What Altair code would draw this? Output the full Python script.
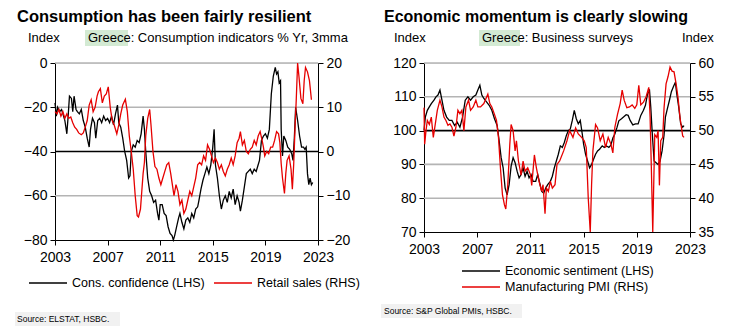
import altair as alt
import pandas as pd

FONT = "Liberation Sans"
RED = "#e60000"
GRID = "#b4b4b4"
GREEN = "#d3ead3"

# ---------------- Left panel: consumption ----------------
cc_t = [2003.0, 2003.1, 2003.2, 2003.35, 2003.5, 2003.6, 2003.75, 2003.9, 2004.0, 2004.1, 2004.25, 2004.35, 2004.45,
        2004.6, 2004.7, 2004.85, 2005.0, 2005.15, 2005.3, 2005.45, 2005.6, 2005.7, 2005.85, 2006.0, 2006.1, 2006.25,
        2006.4, 2006.55, 2006.7, 2006.85, 2007.0, 2007.15, 2007.3, 2007.45, 2007.6, 2007.75, 2007.85, 2008.0, 2008.15,
        2008.3, 2008.45, 2008.6, 2008.7, 2008.8, 2008.95, 2009.1, 2009.25, 2009.4, 2009.55, 2009.7, 2009.8, 2009.9,
        2010.05, 2010.2, 2010.35, 2010.5, 2010.65, 2010.8, 2010.9, 2011.0, 2011.15, 2011.3, 2011.45, 2011.6, 2011.75,
        2011.9, 2012.0, 2012.1, 2012.25, 2012.4, 2012.5, 2012.65, 2012.8, 2012.95, 2013.1, 2013.25, 2013.4, 2013.55,
        2013.7, 2013.85, 2013.95, 2014.1, 2014.25, 2014.4, 2014.55, 2014.7, 2014.85, 2015.0, 2015.1, 2015.2, 2015.35,
        2015.5, 2015.65, 2015.8, 2015.95, 2016.1, 2016.25, 2016.4, 2016.55, 2016.7, 2016.85, 2017.0, 2017.1, 2017.25,
        2017.4, 2017.55, 2017.7, 2017.85, 2018.0, 2018.15, 2018.3, 2018.45, 2018.55, 2018.7, 2018.85, 2019.0, 2019.15,
        2019.3, 2019.45, 2019.6, 2019.75, 2019.85, 2019.95, 2020.05, 2020.15, 2020.2, 2020.3, 2020.4, 2020.55, 2020.7,
        2020.85, 2021.0, 2021.1, 2021.2, 2021.3, 2021.45, 2021.6, 2021.75, 2021.9, 2022.0, 2022.1, 2022.2, 2022.3,
        2022.4, 2022.5, 2022.6]
cc_v = [-18, -24, -20, -22, -21, -23, -26, -32, -24, -15, -16, -22, -15,
        -21, -22, -23, -21, -26, -29, -34, -38, -30, -25, -27, -34, -26,
        -25, -27, -24, -26, -25, -27, -24, -28, -23, -19, -27, -29, -34,
        -40, -44, -52, -51, -40, -37, -38, -35, -36, -32, -24, -30, -40,
        -52, -58, -60, -63, -62, -68, -71, -64, -64, -68, -69, -74, -77,
        -78, -80, -78, -74, -70, -68, -72, -75, -71, -70, -72, -68, -70,
        -66, -65, -62, -57, -53, -50, -47, -50, -46, -38, -30, -46, -52,
        -60, -66, -62, -60, -63, -58, -61, -57, -64, -60, -63, -67, -62,
        -56, -50, -49, -48, -50, -48, -49, -46, -44, -35, -33, -32, -34,
        -30, -14, -6, -2, -5, -4, -9, -8, -30, -42, -33, -35, -38,
        -39, -41, -44, -34, -20, -26, -33, -38, -38, -39, -38, -50, -55,
        -52, -55, -54]

rs_t = [2003.0, 2003.15, 2003.3, 2003.45, 2003.6, 2003.75, 2003.9, 2004.05, 2004.2, 2004.35, 2004.5, 2004.65, 2004.8,
        2005.0, 2005.15, 2005.3, 2005.45, 2005.6, 2005.75, 2005.9, 2006.05, 2006.2, 2006.3, 2006.45, 2006.6, 2006.75,
        2006.9, 2007.05, 2007.2, 2007.35, 2007.5, 2007.7, 2007.85, 2008.0, 2008.15, 2008.35, 2008.5, 2008.65, 2008.8,
        2008.95, 2009.1, 2009.25, 2009.35, 2009.5, 2009.6, 2009.7, 2009.8, 2009.9, 2010.05, 2010.2, 2010.3, 2010.45,
        2010.6, 2010.75, 2010.9, 2011.05, 2011.2, 2011.35, 2011.5, 2011.65, 2011.8, 2011.95, 2012.05, 2012.2, 2012.35,
        2012.5, 2012.65, 2012.8, 2012.95, 2013.1, 2013.25, 2013.4, 2013.55, 2013.7, 2013.85, 2014.0, 2014.15, 2014.3,
        2014.45, 2014.6, 2014.75, 2014.9, 2015.05, 2015.2, 2015.35, 2015.5, 2015.65, 2015.8, 2015.95, 2016.1, 2016.25,
        2016.4, 2016.55, 2016.7, 2016.85, 2017.0, 2017.1, 2017.25, 2017.4, 2017.55, 2017.7, 2017.85, 2018.0, 2018.15,
        2018.3, 2018.45, 2018.6, 2018.75, 2018.85, 2018.95, 2019.1, 2019.25, 2019.4, 2019.55, 2019.7, 2019.85, 2020.0,
        2020.1, 2020.2, 2020.3, 2020.45, 2020.55, 2020.65, 2020.8, 2020.95, 2021.05, 2021.15, 2021.25, 2021.35, 2021.45,
        2021.55, 2021.7, 2021.85, 2021.95, 2022.05, 2022.2, 2022.35, 2022.5]
rs_v = [9, 8.5, 9.5, 8, 9, 7.5, 8.5, 7.5, 7.8, 6.5, 5.5, 5, 4.2,
        3.8, 4.2, 5.5, 7, 10.5, 11.7, 9, 10, 12.5, 13.5, 14.2, 11, 12.5,
        13, 14.6, 10, 7, 6, 4, 6, 8.5, 10.5, 11.8, 9, 3.5, 0,
        -4, -10, -14.5, -14.8, -13, -9, -5, -2.5, 3.5, 7.5, 9.5, 6, 0,
        -3.4, -4, -6, -7.5, -6, -4.5, -3, -2.5, -5, -8, -10, -7.5, -9,
        -12, -11, -14, -13, -11, -9, -10, -8, -6, -3, -2.5, -3, -1,
        -2, 1.5, 0.5, -1, -2.5, -1.5, -2.5, -4, -3, -4.5, -5.5, -4, -3,
        -1.5, -3, -1, 2, 3, 4.5, 1.5, 2.5, 0, -0.5, 0.5, 1, 2.5,
        1.5, 3.5, 4.5, 2.5, 1, -1, 0, -0.5, 1, 1, 2.5, 4.5, 4,
        2, -2.7, -6, -9.5, -5, -2, -1, -4, -8.5, -3, 5, 12, 20,
        17, 12, 10.8, 16, 19, 18, 16, 11.7]

# ---------------- Right panel: business surveys ----------------
es_t = [2003.0, 2003.1, 2003.25, 2003.4, 2003.55, 2003.75, 2003.9, 2004.05, 2004.2, 2004.35, 2004.5, 2004.7, 2004.9,
        2005.1, 2005.3, 2005.5, 2005.7, 2005.9, 2006.1, 2006.3, 2006.5, 2006.7, 2006.9, 2007.05, 2007.2, 2007.35,
        2007.5, 2007.7, 2007.9, 2008.1, 2008.3, 2008.5, 2008.65, 2008.8, 2008.95, 2009.1, 2009.25, 2009.4, 2009.55,
        2009.7, 2009.85, 2010.0, 2010.15, 2010.3, 2010.45, 2010.6, 2010.75, 2010.9, 2011.05, 2011.2, 2011.4, 2011.55,
        2011.7, 2011.85, 2012.0, 2012.15, 2012.3, 2012.5, 2012.65, 2012.8, 2012.95, 2013.1, 2013.25, 2013.4, 2013.55,
        2013.7, 2013.85, 2014.0, 2014.15, 2014.3, 2014.45, 2014.6, 2014.75, 2014.9, 2015.0, 2015.15, 2015.3, 2015.45,
        2015.6, 2015.75, 2015.9, 2016.05, 2016.2, 2016.4, 2016.55, 2016.7, 2016.9, 2017.05, 2017.2, 2017.35, 2017.5,
        2017.65, 2017.85, 2018.0, 2018.2, 2018.35, 2018.5, 2018.7, 2018.9, 2019.1, 2019.3, 2019.5, 2019.65, 2019.8,
        2019.95, 2020.05, 2020.15, 2020.3, 2020.45, 2020.6, 2020.75, 2020.9, 2021.05, 2021.15, 2021.3, 2021.45, 2021.6,
        2021.75, 2021.9, 2022.0, 2022.15, 2022.3, 2022.45, 2022.55]
es_v = [100, 104, 106, 107, 108, 109, 110, 110.5, 112, 109, 106, 104, 103,
        103, 101.5, 102.5, 101, 104, 109, 110, 109, 110, 110.5, 112, 113.4, 110.5,
        109.5, 108.5, 107.5, 106, 103.5, 101.5, 97, 92, 89, 83, 81, 84, 89.5,
        92, 90.5, 88, 86, 87, 89, 86.5, 88, 86, 87, 85, 85, 87,
        84.5, 82, 81.5, 83, 84, 85, 86.5, 89, 91, 93, 95.5, 95, 96.5,
        98.5, 100, 100.5, 103, 106, 103.5, 102, 103, 99, 96, 93, 91, 89,
        90, 91.5, 93, 94, 94.5, 95.5, 95, 95.5, 95, 95.7, 97.8, 99, 100.8,
        102.9, 103.5, 104, 104.7, 104.5, 103, 101.7, 102, 102, 104.5, 106, 107.5, 110.7,
        112.2, 107, 100, 91, 90.5, 90, 91, 94, 98.7, 104, 106.5, 108.9, 111.5,
        113, 114.3, 111, 107, 102, 101, 101.5]

pmi_t = [2003.0, 2003.05, 2003.15, 2003.25, 2003.4, 2003.55, 2003.7, 2003.85, 2004.0, 2004.2, 2004.35, 2004.5, 2004.65,
         2004.8, 2004.95, 2005.1, 2005.25, 2005.4, 2005.55, 2005.7, 2005.85, 2006.0, 2006.15, 2006.35, 2006.5, 2006.7,
         2006.9, 2007.05, 2007.25, 2007.5, 2007.8, 2007.95, 2008.1, 2008.3, 2008.45, 2008.6, 2008.75, 2008.9, 2009.05,
         2009.15, 2009.3, 2009.45, 2009.55, 2009.7, 2009.85, 2009.95, 2010.1, 2010.3, 2010.45, 2010.6, 2010.8, 2011.0,
         2011.1, 2011.3, 2011.45, 2011.65, 2011.85, 2011.95, 2012.1, 2012.2, 2012.35, 2012.5, 2012.65, 2012.85, 2013.0,
         2013.2, 2013.5, 2013.75, 2013.95, 2014.2, 2014.4, 2014.6, 2014.85, 2015.05, 2015.2, 2015.35, 2015.5, 2015.6,
         2015.7, 2015.9, 2016.05, 2016.25, 2016.45, 2016.65, 2016.85, 2017.05, 2017.2, 2017.35, 2017.55, 2017.75, 2017.9,
         2018.05, 2018.25, 2018.45, 2018.65, 2018.85, 2019.0, 2019.15, 2019.3, 2019.5, 2019.7, 2019.9, 2020.0, 2020.1,
         2020.2, 2020.35, 2020.5, 2020.6, 2020.7, 2020.8, 2020.95, 2021.05, 2021.2, 2021.35, 2021.5, 2021.65, 2021.8,
         2021.95, 2022.1, 2022.25, 2022.45, 2022.55]
pmi_v = [53.4, 48, 50, 51.5, 50.9, 52, 49, 51, 53, 54.5, 53.5, 52, 51.5,
         50.8, 51, 50.5, 49.2, 50.5, 53, 52.5, 53, 50, 53.5, 54.5, 53, 53.5,
         54.5, 53.5, 53.5, 54, 55.4, 54, 53.5, 52.4, 51.5, 49, 44.4, 40.5, 39,
         38.4, 42, 47.9, 50.9, 50, 47, 48.5, 45.5, 43.4, 45.5, 44, 44.5, 43.5,
         41.9, 46.4, 44.5, 42.5, 41, 42, 37.7, 41.5, 41, 42.5, 41.5, 42, 45,
         45.5, 47, 48.5, 50, 49, 50.4, 49.5, 49, 48.5, 47.5, 40, 35, 42,
         47, 50.9, 50.4, 48.5, 49.5, 47.5, 49, 48, 46.7, 50.5, 52.4, 54, 56,
         54.5, 53.4, 53.5, 53.8, 53.3, 53.8, 56.7, 53.8, 54.2, 55, 56.4, 52, 44,
         35, 49.4, 49, 50, 41.9, 48.5, 49, 53.4, 56.9, 58, 59.4, 58.8, 58.7,
         57, 54.9, 51.9, 49.2, 49]

years = [2003, 2007, 2011, 2015, 2019, 2023]
l_lhs_ticks = [-80, -60, -40, -20, 0]
l_rhs_ticks = [-20, -10, 0, 10, 20]
r_lhs_ticks = [70, 80, 90, 100, 110, 120]
r_rhs_ticks = [35, 40, 45, 50, 55, 60]
l_grid = [-60, -20, 0]
r_grid = [80, 90, 110, 120]
l_series = ["Cons. confidence (LHS)", "Retail sales (RHS)"]
r_series = ["Economic sentiment (LHS)", "Manufacturing PMI (RHS)"]

one = pd.DataFrame({"k": [0]})


def xenc():
    return alt.X("t:Q", scale=alt.Scale(domain=[2003, 2023], nice=False, zero=False),
                 axis=alt.Axis(values=years, format="d", title=None, grid=False, domainColor="black",
                               tickColor="black", tickSize=5, labelFont=FONT, labelFontSize=14,
                               labelColor="black", labelPadding=5, labelFlush=False, labelOverlap=False))


def yenc(dom, ticks, orient):
    return alt.Y("v:Q", scale=alt.Scale(domain=dom, nice=False, zero=False),
                 axis=alt.Axis(values=ticks, orient=orient, title=None, grid=False,
                               domainColor="black", tickColor="black", tickSize=5, labelFont=FONT,
                               labelFontSize=14, labelColor="black", labelPadding=3, labelFlush=False,
                               labelOverlap=False, format="d"))


def cenc(names, lx, ly, direction):
    return alt.Color("s:N", scale=alt.Scale(domain=names, range=["black", RED]),
                     legend=alt.Legend(orient="none", legendX=lx, legendY=ly, direction=direction,
                                       title=None, symbolType="stroke", symbolSize=1444,
                                       symbolStrokeWidth=1.3, labelFont=FONT, labelFontSize=12.5,
                                       labelColor="black", labelOffset=4, columnPadding=8, rowPadding=0,
                                       clipHeight=16, padding=0))


def txt(s, x, y, size=13, weight="normal", baseline="middle", color="black"):
    return alt.Chart(one).mark_text(text=s, align="left", baseline=baseline, fontSize=size,
                                    fontWeight=weight, font=FONT, color=color).encode(
        x=alt.value(x), y=alt.value(y))


def box(x1, x2, y1, y2, color):
    return alt.Chart(one).mark_rect(color=color).encode(
        x=alt.value(x1), x2=alt.value(x2), y=alt.value(y1), y2=alt.value(y2))


def hline(val, dom, ticks, w, color, width):
    return alt.Chart(pd.DataFrame({"v": [val]})).mark_rule(
        stroke=color, strokeWidth=width).encode(
        y=yenc(dom, ticks, "left"), x=alt.value(0), x2=alt.value(w))


def panel(t1, v1, t2, v2, names, ldom, lticks, gridvals, zero, rdom, rticks, w, h, texts, legend_pos,
          direction):
    d1 = pd.DataFrame({"t": t1, "v": v1, "s": names[0]})
    d2 = pd.DataFrame({"t": t2, "v": v2, "s": names[1]})
    c = cenc(names, legend_pos[0], legend_pos[1], direction)
    glines = [hline(g, ldom, lticks, w, GRID, 1.6) for g in gridvals]
    zline = hline(zero, ldom, lticks, w, "black", 1.6)
    lhs = alt.Chart(d1).mark_line(strokeWidth=1.3).encode(
        x=xenc(), y=yenc(ldom, lticks, "left"), color=c)
    left_layer = alt.layer(*glines, zline, lhs, *texts)
    rhs = alt.Chart(d2).mark_line(strokeWidth=1.3).encode(
        x=xenc(), y=yenc(rdom, rticks, "right"), color=c)
    return alt.layer(left_layer, rhs).resolve_scale(y="independent").properties(width=w, height=h)


# texts (positions relative to each plot origin)
l_texts = [
    box(-40, 65, 249, 263, "#f1f1f1"),
    box(30, 73, -33, -17, GREEN),
    txt("Consumption has been fairly resilient", -38, -54, size=16.5, weight="bold", baseline="top"),
    txt("Index", -27, -25),
    txt("Greece: Consumption indicators  % Yr, 3mma", 33, -25),
    txt("Source: ELSTAT, HSBC.", -38, 256, size=8.5),
]
r_texts = [
    box(-43, 98, 241, 255, "#f1f1f1"),
    box(55, 96, -33, -17, GREEN),
    txt("Economic momentum is clearly slowing", -40, -54, size=16, weight="bold", baseline="top"),
    txt("Index", -30, -25),
    txt("Greece: Business surveys", 58, -25),
    txt("Index", 258, -25),
    txt("Source:  S&P Global PMIs, HSBC.", -40, 248, size=8.5),
]

left = panel(cc_t, cc_v, rs_t, rs_v, l_series, [-80, 0], l_lhs_ticks, l_grid, -40, [-20, 20], l_rhs_ticks,
             263, 177, l_texts, (-27, 212), "horizontal")
right = panel(es_t, es_v, pmi_t, pmi_v, r_series, [70, 120], r_lhs_ticks, r_grid, 100, [35, 60], r_rhs_ticks,
              266, 169, r_texts, (37, 200), "vertical")

chart = alt.hconcat(left, right, spacing=106, bounds="flush").resolve_scale(
    color="independent", x="independent").properties(
    padding={"left": 14, "top": 8, "right": 0, "bottom": 0}
).configure_view(stroke=None).configure(background="white")

chart.save("out.html", embed_options={"renderer": "svg", "actions": False})
